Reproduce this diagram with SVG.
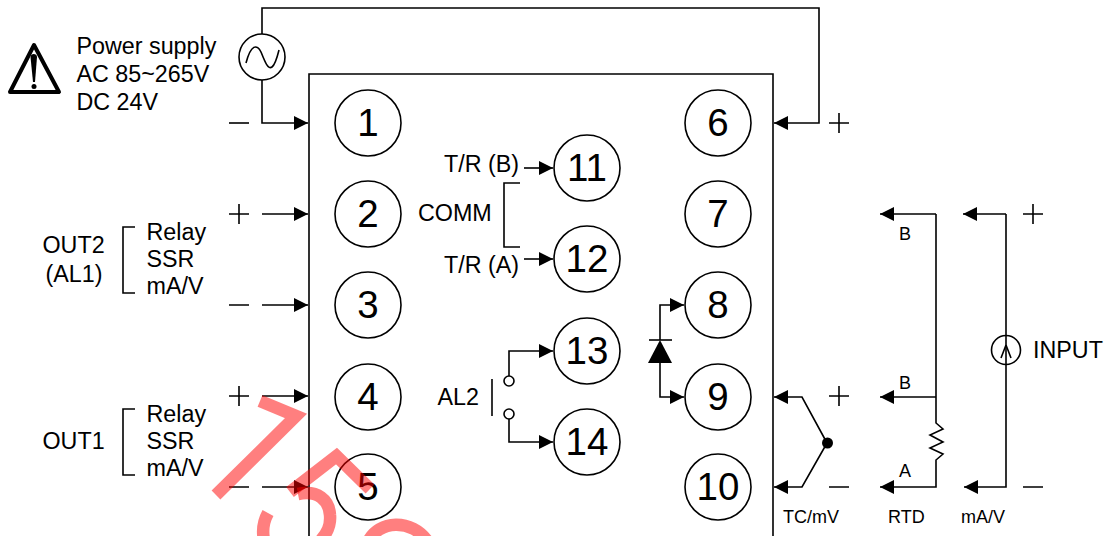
<svg xmlns="http://www.w3.org/2000/svg" width="1110" height="536" viewBox="0 0 1110 536">
<style>
text{font-family:"Liberation Sans",Arial,sans-serif;fill:#000}
.l{font-size:23.300px}
.n{font-size:38.500px;text-anchor:middle}
.s{font-size:18px}
.w{fill:none;stroke:#000;stroke-width:1.6}
.c{fill:#fff;stroke:#000;stroke-width:1.6}
.h{fill:#000;stroke:none}
</style>
<defs>
<marker id="a" markerUnits="userSpaceOnUse" markerWidth="15" markerHeight="15" refX="14" refY="7" orient="auto"><path d="M0,0L14,7L0,14z" fill="#000"/></marker>
</defs>
<rect width="1110" height="536" fill="#fff"/>
<path id="box" class="w" d="M309,536V74H773V536"/>
<g id="connectors">
<path class="w" d="M262,34V8H819V123H774" marker-end="url(#a)"/>
<path class="w" d="M262,80V123H308" marker-end="url(#a)"/>
<path class="w" d="M229,123H249"/>
<path class="w" d="M262,214H308" marker-end="url(#a)"/>
<path class="w" d="M262,305H308" marker-end="url(#a)"/>
<path class="w" d="M262,396H308" marker-end="url(#a)"/>
<path class="w" d="M262,487H308" marker-end="url(#a)"/>
<path class="w" d="M229,214H249M239,204V224M229,305H249M229,396H249M239,386V406M229,487H249"/>
<path class="w" d="M829,123H849M839,113V133M829,396H849M839,386V406M829,487H849M1023,214H1043M1033,204V224M1023,487H1043"/>
<path class="w" d="M135,227H123V293H135M135,409H123V475H135"/>
<path class="w" d="M524,168H553" marker-end="url(#a)"/>
<path class="w" d="M524,259H553" marker-end="url(#a)"/>
<path class="w" d="M520,183H504V247H520"/>
<path class="w" d="M509,376V351H553" marker-end="url(#a)"/>
<path class="w" d="M509,418V442H553" marker-end="url(#a)"/>
<path class="w" d="M492,379V416"/>
<path class="w" d="M660,340V305H684" marker-end="url(#a)"/>
<path class="w" d="M660,362V397H684" marker-end="url(#a)"/>
<path class="w" d="M649,340H672"/>
<path class="h" d="M660,340L672,363H648z"/>
<path class="w" d="M827,443L802,397H774" marker-end="url(#a)"/>
<path class="w" d="M827,443L802,487H774" marker-end="url(#a)"/>
<circle class="h" cx="827.500" cy="443" r="5.500"/>
<path class="w" d="M936,214H880" marker-end="url(#a)"/>
<path class="w" d="M936,214V423L943,429L930,435L943,442L930,448L943,454L936,460V487H880" marker-end="url(#a)"/>
<path class="w" d="M936,397H880" marker-end="url(#a)"/>
<path class="w" d="M1006,214H963" marker-end="url(#a)"/>
<path class="w" d="M1006,214V487H964" marker-end="url(#a)"/>
<path class="w" d="M1006,345L1001,358M1006,345L1011,358"/>
</g>
<g id="power"><circle class="c" cx="262" cy="57" r="23"/><path class="w" d="M246,63C251,44 257,44 261,52C265,62 268,70 272,67C275,65 277,58 279,50"/></g>
<g id="input-source"><circle class="w" cx="1006" cy="350" r="14.500"/></g>
<g id="warning"><path d="M34,45L59,92H10z" fill="none" stroke="#000" stroke-width="4" stroke-linejoin="round"/><path class="h" d="M30.500,57C30.500,53 37,53 37,57L35,82H33z"/><circle class="h" cx="34" cy="86.500" r="2.500"/></g>
<g id="n1"><circle class="c" cx="368" cy="123" r="33"/><text class="n" x="368" y="136">1</text></g>
<g id="n2"><circle class="c" cx="368" cy="214" r="33"/><text class="n" x="368" y="227">2</text></g>
<g id="n3"><circle class="c" cx="368" cy="305" r="33"/><text class="n" x="368" y="318">3</text></g>
<g id="n4"><circle class="c" cx="368" cy="397" r="33"/><text class="n" x="368" y="410">4</text></g>
<g id="n5"><circle class="c" cx="368" cy="487" r="33"/><text class="n" x="368" y="500">5</text></g>
<g id="n6"><circle class="c" cx="718" cy="123" r="33"/><text class="n" x="718" y="136">6</text></g>
<g id="n7"><circle class="c" cx="718" cy="214" r="33"/><text class="n" x="718" y="227">7</text></g>
<g id="n8"><circle class="c" cx="718" cy="305" r="33"/><text class="n" x="718" y="318">8</text></g>
<g id="n9"><circle class="c" cx="718" cy="397" r="33"/><text class="n" x="718" y="410">9</text></g>
<g id="n10"><circle class="c" cx="718" cy="487" r="33"/><text class="n" x="718" y="500">10</text></g>
<g id="n11"><circle class="c" cx="587" cy="168" r="33"/><text class="n" x="587" y="181">11</text></g>
<g id="n12"><circle class="c" cx="587" cy="259" r="33"/><text class="n" x="587" y="272">12</text></g>
<g id="n13"><circle class="c" cx="587" cy="351" r="33"/><text class="n" x="587" y="364">13</text></g>
<g id="n14"><circle class="c" cx="587" cy="442" r="33"/><text class="n" x="587" y="455">14</text></g>
<circle class="c" cx="509" cy="381" r="5"/><circle class="c" cx="509" cy="414" r="5"/>
<text class="l" x="76.500" y="54">Power supply</text>
<text class="l" x="76.500" y="82">AC 85~265V</text>
<text class="l" x="76.500" y="110">DC 24V</text>
<text class="l" x="146.500" y="240">Relay</text><text class="l" x="146.500" y="267">SSR</text><text class="l" x="146.500" y="294">mA/V</text>
<text class="l" x="146.500" y="422">Relay</text><text class="l" x="146.500" y="449">SSR</text><text class="l" x="146.500" y="476">mA/V</text>
<text class="l" x="42.500" y="253">OUT2</text><text class="l" x="45.500" y="282">(AL1)</text><text class="l" x="42.500" y="449">OUT1</text>
<text class="l" x="444" y="172">T/R (B)</text><text class="l" x="444" y="273">T/R (A)</text><text class="l" x="418" y="221">COMM</text><text class="l" x="437.500" y="405">AL2</text>
<text class="l" x="1033" y="358">INPUT</text>
<text class="s" x="899" y="240">B</text><text class="s" x="899" y="389">B</text><text class="s" x="899" y="477">A</text>
<text class="s" x="783" y="523">TC/mV</text><text class="s" x="888" y="523">RTD</text><text class="s" x="961" y="523">mA/V</text>
<g id="watermark" fill="none" stroke="#ff0000" stroke-opacity=".5" stroke-width="12.500">
<path d="M260,401L296,416L216,495"/>
<path d="M290,492L336.500,456L370,489"/>
<path d="M298,494C318,490 329,500 330,515C331,526 327,533 321,540"/>
<path d="M268,513C263,522 262,530 264,540"/>
<path d="M368,542C378,520 412,518 428,542"/>
</g>
</svg>
